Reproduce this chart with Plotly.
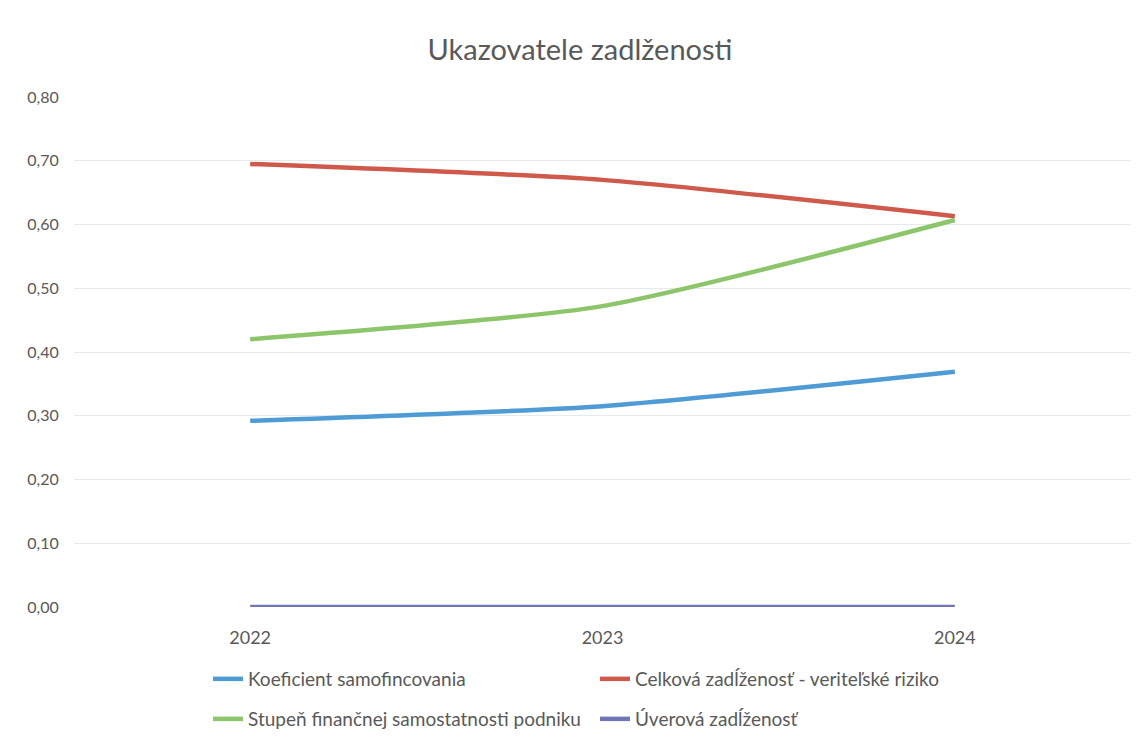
"""Ukazovatele zadlženosti - line chart recreated with Plotly."""

import plotly.graph_objects as go

years = ["2022", "2023", "2024"]

koeficient_samofinancovania = [0.292, 0.315, 0.369]
celkova_zadlzenost = [0.695, 0.670, 0.613]
stupen_samostatnosti = [0.420, 0.472, 0.607]
uverova_zadlzenost = [0.0, 0.0, 0.0]

series = [
    ("Koeficient samofincovania", koeficient_samofinancovania, "#4f9bd5", "legend"),
    ("Celková zadĺženosť - veriteľské riziko", celkova_zadlzenost, "#cf5a4c", "legend"),
    ("Stupeň finančnej samostatnosti podniku", stupen_samostatnosti, "#8cc56a", "legend2"),
    ("Úverová zadĺženosť", uverova_zadlzenost, "#7176b5", "legend2"),
]

FONT = "Lato, Open Sans, sans-serif"
GREY = "#595959"
W, H = 1135, 732  # page adds an 8px body margin

fig = go.Figure()
for name, values, color, legend in series:
    fig.add_trace(go.Scatter(
        x=years,
        y=values,
        name=name,
        mode="lines",
        line=dict(color=color, width=4.5, shape="spline", smoothing=0.6),
        legend=legend,
    ))

legend_style = dict(
    orientation="h",
    xref="container",
    yref="container",
    xanchor="left",
    yanchor="middle",
    x=200 / W,
    entrywidth=342,
    font=dict(family=FONT, size=19, color=GREY),
    bgcolor="rgba(0,0,0,0)",
)

fig.update_layout(
    width=W,
    height=H,
    paper_bgcolor="white",
    plot_bgcolor="white",
    separators=", ",
    margin=dict(l=66, r=12, t=89, b=133),
    title=dict(
        text="Ukazovatele zadlženosti",
        x=572 / W,
        xanchor="center",
        y=1 - 42 / H,
        yanchor="middle",
        font=dict(family=FONT, size=29, color=GREY),
    ),
    legend=dict(legend_style, y=1 - 671 / H),
    legend2=dict(legend_style, y=1 - 711 / H),
    font=dict(family=FONT, color=GREY),
)

fig.update_xaxes(
    type="category",
    range=[-0.5, 2.5],
    showgrid=False,
    showline=False,
    zeroline=False,
    ticks="outside",
    ticklen=14,
    tickcolor="rgba(0,0,0,0)",
    tickfont=dict(family=FONT, size=18, color=GREY),
)
fig.update_yaxes(
    range=[0, 0.8],
    dtick=0.1,
    tickformat=".2f",
    showgrid=True,
    gridcolor="#e4eaee",
    gridwidth=1,
    zeroline=False,
    showline=False,
    ticks="outside",
    ticklen=11,
    tickcolor="rgba(0,0,0,0)",
    tickfont=dict(family=FONT, size=16, color=GREY),
)

fig.write_html("out.html")
